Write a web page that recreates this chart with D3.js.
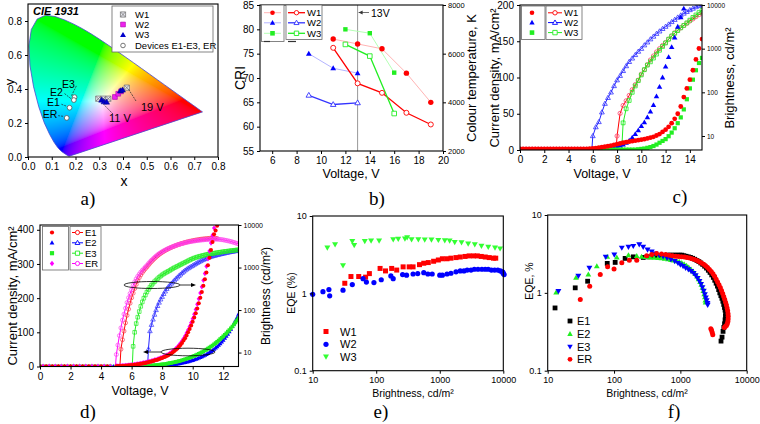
<!DOCTYPE html>
<html><head><meta charset="utf-8">
<script src="https://cdn.jsdelivr.net/npm/d3@7"></script>
<style>body{margin:0;background:#fff}svg{display:block}</style>
</head><body><svg id="c" width="760" height="424"></svg>
<script>
// ---------------- DATA ----------------
// panel a: CIE 1931 spectral locus (x,y) and colour coordinates
const locusXY = [[0.1741,0.0050],[0.1733,0.0048],[0.1714,0.0051],[0.1689,0.0069],[0.1644,0.0109],[0.1566,0.0177],[0.1440,0.0297],[0.1355,0.0399],[0.1241,0.0578],[0.1096,0.0868],[0.0913,0.1327],[0.0687,0.2007],[0.0454,0.2950],[0.0235,0.4127],[0.0082,0.5384],[0.0039,0.6548],[0.0139,0.7502],[0.0389,0.8120],[0.0743,0.8338],[0.1142,0.8262],[0.1547,0.8059],[0.1929,0.7816],[0.2296,0.7543],[0.2658,0.7243],[0.3016,0.6923],[0.3373,0.6589],[0.3731,0.6245],[0.4087,0.5896],[0.4441,0.5547],[0.4788,0.5202],[0.5125,0.4866],[0.5448,0.4544],[0.5752,0.4242],[0.6029,0.3965],[0.6270,0.3725],[0.6658,0.3340],[0.6915,0.3083],[0.7079,0.2920],[0.7190,0.2809],[0.7260,0.2740],[0.7334,0.2666],[0.7347,0.2653]];
const aW1 = [[0.296,0.343],[0.317,0.343],[0.338,0.343],[0.416,0.408]];
const aW2 = [[0.366,0.353],[0.380,0.372],[0.392,0.386]];
const aW3 = [[0.310,0.335],[0.320,0.325],[0.331,0.323],[0.389,0.389],[0.398,0.394]];
const aDev = [[0.196,0.352],[0.193,0.335],[0.175,0.290],[0.163,0.230]];
const aDevNames = ["E3","E2","E1","ER"];
const aDevLabelXY = [[0.170,0.430],[0.120,0.385],[0.107,0.322],[0.093,0.255]];
const aTicksX = [0,0.1,0.2,0.3,0.4,0.5,0.6,0.7,0.8];
const aTicksY = [0,0.2,0.4,0.6,0.8];

// panel b: CRI (left) and colour temperature (right) vs voltage
const bW1_CRI = [[11,78],[13,77],[15,76],[17,71],[19,65]];
const bW2_CRI = [[9,75],[11,72],[13,71]];
const bW3_CRI = [[12,80],[14,79.2],[16,71.1]];
const bW1_CT = [[11,6240],[13,4780],[15,4390],[17,3570],[19,3090]];
const bW2_CT = [[9,4290],[11,3910],[13,3980]];
const bW3_CT = [[12,6380],[14,5900],[16,3540]];
const bTicksX = [6,8,10,12,14,16,18,20];
const bTicksCRI = [55,60,65,70,75,80,85];
const bTicksCT = [2000,4000,6000,8000];

// panel c: voltage sweep step 0.25 V; J (mA/cm2) and brightness (cd/m2)
const cStep = 0.25;
const cW1J = {v0:0, y:[1.5,1.5,1.5,1.5,1.5,1.5,1.5,1.5,1.5,1.5,1.5,1.5,1.5,1.5,1.5,1.5,1.5,1.5,1.5,1.5,1.5,1.5,1.5,
  1.8,2.2,2.7,3.2,3.8,4.5,5.2,6,7,8,9,10,10.8,11.5,12.2,12.8,13.5,14.2,15,16,17,18.2,20,22,25,28,32,37,43,50,60,73,85,97,110,125,140,153]};
const cW2J = {v0:0, y:[1,1,1,1,1,1,1,1,1,1,1,1,1,1,1,1,1,1,1,1,1,1,1,1,1.2,1.4,1.6,1.8,
  2,2.5,3,4,5,6,7.5,10,13,17,22,27,33,38,45,53,62,74,87,100,115,128,142,155,170,183,195]};
const cW3J = {v0:0, y:[0.5,0.5,0.5,0.5,0.5,0.5,0.5,0.5,0.5,0.5,0.5,0.5,0.5,0.5,0.5,0.5,0.5,0.5,0.5,0.5,0.5,0.5,0.5,0.5,0.5,0.5,0.5,0.5,0.5,0.5,0.5,0.5,0.5,0.5,0.5,0.5,0.5,0.5,0.5,
  1,1.5,2,3,4,5.5,7.5,10,12.5,15,19,24,30,37,45,56,70,85,97,110,120,127]};
const cW1B = {v0:7.75, y:[1,10,33,50,64,85,115,150,190,260,330,430,550,680,840,1000,1180,1380,1650,1950,2300,2650,3000,3400,3800,4300,4800,5400,6000,6600]};
const cW2B = {v0:5.75, y:[1,10,16,21,35,55,75,100,140,190,240,310,400,500,600,720,860,1000,1200,1400,1650,1900,2200,2500,2850,3200,3600,4100,4600,5200,5800,6400,7000,7700,8300,9000,9600,10000]};
const cW3B = {v0:8.25, y:[1,20,42,65,100,140,185,250,330,420,500,610,750,920,1120,1350,1650,1950,2250,2600,3000,3400,3900,4500,5200,5900,6700,7600]};
const cTicksX = [0,2,4,6,8,10,12,14];
const cTicksJ = [0,50,100,150,200];
const cTicksB = [10,100,1000,10000];

// panel d: step 0.1 V in the rising part (0.4 V in the flat part)
const dStep = 0.1, dFlatStep = 0.4;
const dE1J_flat = {v0:0, y:[0.8,0.8,0.8,0.8,0.8,0.8,0.8,0.8,0.8,0.8,0.8,0.8]};
const dE2J_flat = {v0:0, y:[0.3,0.3,0.3,0.3,0.3,0.3,0.3,0.3,0.3,0.3,0.3,0.3,0.3,0.3,0.3,0.3,0.3]};
const dE3J_flat = {v0:0.2, y:[0.5,0.5,0.5,0.5,0.5,0.5,0.5,0.5,0.5,0.5,0.5,0.5,0.5,0.5,0.5]};
const dERJ_flat = {v0:0.2, y:[1,1,1,1,1,1,1,1,1,1,1,1]};
const dERJ = {v0:5.0, y:[1.5,1.7,1.9,2.1,2.4,2.7,3.0,3.4,3.8,4.3,
  4.8,5.4,6.0,6.7,7.4,8.2,9.0,9.9,10.8,11.8, 12.8,13.9,15.0,16.2,17.5,18.8,20.2,21.7,23.3,25.0,
  26.8,28.7,30.8,33.0,35.5,38.2,41.2,44.5,48.2,52.3, 57,62,68,74,81,89,98,107,117,128,
  140,153,167,182,198,215,233,252,272,293, 315,338,361,384,405]};
const dE1J = {v0:5.0, y:[1.0,1.2,1.4,1.6,1.8,2.1,2.4,2.7,3.1,3.5,
  4.0,4.5,5.1,5.7,6.4,7.1,7.9,8.7,9.6,10.5, 11.5,12.5,13.6,14.8,16.0,17.3,18.7,20.1,21.6,23.2,
  24.9,26.7,28.7,30.8,33.1,35.6,38.4,41.5,45.0,48.8, 53,58,63,69,76,83,91,100,110,120,
  131,143,156,170,185,201,218,236,255,275, 296,318,341,364,387,398,412]};
const dE2J = {v0:7.0, y:[0.3,0.4,0.5,0.6,0.8,1.0,1.2,1.4,1.7,2.0,
  2.3,2.7,3.1,3.5,4.0,4.5,5.1,5.7,6.3,7.0, 7.7,8.5,9.3,10.2,11.1,12.1,13.2,14.3,15.5,16.8,
  18.2,19.7,21.3,23.0,24.8,26.7,28.7,30.9,33.2,35.7, 38.4,41.2,44.2,47.4,50.8,54.5,58.4,62.6,67.1,72,
  77,83,89,95,102,109,117,125,134,143, 153]};
const dE3J = {v0:6.0, y:[0.5,0.6,0.7,0.8,0.9,1.0,1.2,1.4,1.6,1.8,
  2.0,2.3,2.6,2.9,3.3,3.7,4.1,4.6,5.1,5.6, 6.2,6.8,7.5,8.2,9.0,9.8,10.7,11.6,12.6,13.6,
  14.7,15.8,17.0,18.3,19.6,21.0,22.5,24.0,25.6,27.3, 29.1,31.0,33.0,35.0,37.2,39.4,41.8,44.2,46.8,49.5,
  52.3,55.2,58.3,61.5,64.9,68.4,72,76,80,84, 88,93,97,102,107,112,117,123,129,135, 141]};
const dERB = {v0:4.9, y:[3, 9,15,25,38,58,80,110,150,195,245,
  300,380,460,540,620,700,780,860,940,1030, 1120,1240,1360,1480,1600,1730,1860,1990,2120,2240,
  2360,2470,2580,2690,2800,2900,3000,3100,3200,3300, 3400,3490,3580,3660,3740,3820,3900,3970,4040,4100,
  4160,4210,4260,4310,4360,4400,4440,4480,4510,4540, 4570,4600,4620,4640,4650,4650,4640,4620,4580,4530,
  4470,4400,4330,4250,4170,4080,3990,3890,3790,3690, 3600]};
const dE1B = {v0:5.2, y:[3,12,20,32,50,75,105,145,
  195,250,320,400,490,580,670,760,850,940, 1030,1140,1260,1380,1500,1630,1760,1890,2020,2150,
  2270,2390,2510,2630,2750,2860,2970,3080,3190,3300, 3400,3500,3600,3700,3790,3880,3970,4050,4130,4210,
  4280,4350,4420,4480,4540,4600,4650,4700,4740,4780, 4810,4840,4860,4870,4870,4860,4830]};
const dE3B = {v0:6.0, y:[2,14,30,48,68,92,122,155,190,225,
  265,305,345,385,425,465,505,545,590,630, 670,710,745,780,815,855,900,945,990,1030,
  1070,1120,1170,1220,1270,1320,1380,1440,1500,1560, 1620,1670,1720,1770,1810,1850,1890,1930,1970,2010,
  2050,2080,2110,2140,2170,2200,2230,2260,2290,2320, 2350,2380,2400,2430,2460,2480,2510,2540,2560,2590, 2610]};
const dE2B = {v0:7.0, y:[2,12,32,45,60,78,100,125,150,178,
  205,240,275,315,350,385,420,455,500,545, 590,640,690,745,800,855,910,960,1010,1060,
  1110,1170,1230,1290,1350,1410,1470,1530,1590,1650, 1710,1760,1800,1850,1890,1930,1970,2010,2050,2090,
  2130,2170,2210,2250,2290,2330,2360,2400,2430,2460, 2490]};
const dTicksX = [0,2,4,6,8,10,12];
const dTicksJ = [0,100,200,300,400];
const dTicksB = [10,100,1000,10000];

// panel e: EQE (%) vs brightness (cd/m2)
const eW1 = [[32,1.35],[40,1.65],[53,1.65],[68,1.62],[78,1.8],[115,2.1],[140,1.95],[175,2.1],[210,2.0],[265,2.2],[330,2.2],[380,2.2],[480,2.35],[560,2.45],[660,2.5],[800,2.6],[950,2.7],[1100,2.8],[1300,2.8],[1500,2.85],[1800,2.9],[2100,2.95],[2500,3.0],[2900,3.05],[3400,3.05],[3900,3.05],[4500,3.0],[5200,2.95],[6000,2.9],[7000,2.85],[7600,2.85]];
const eW2 = [[10,0.97],[14.5,1.05],[18,1.12],[18.5,0.93],[30,1.1],[42,1.3],[62,1.55],[70,1.4],[92,1.38],[120,1.5],[170,1.68],[185,1.55],[260,1.75],[300,1.72],[380,1.78],[450,1.8],[560,1.85],[650,1.78],[760,1.78],[1000,1.72],[1100,1.72],[1300,1.78],[1500,1.82],[1800,1.9],[2100,1.95],[2400,1.95],[2700,2.0],[3100,2.0],[3500,2.05],[4000,2.05],[4600,2.05],[5200,2.05],[5800,2.05],[6500,2.0],[7300,2.0],[8200,2.0],[9000,1.95],[9700,1.9],[10000,1.8],[10300,1.75],[9900,1.85]];
const eW3 = [[17,3.9],[22.5,4.3],[30,2.3],[42,4.75],[45,4.2],[66,4.75],[83,4.8],[111,4.8],[185,5.0],[222,5.05],[283,5.1],[307,5.3],[360,5.0],[460,5.0],[580,4.95],[740,4.95],[950,4.9],[1200,4.85],[1430,4.8],[1720,4.6],[2200,4.55],[2800,4.4],[3560,4.3],[4530,4.1],[5800,4.0],[7400,3.9],[8900,3.8]];
const logTicksB = [10,100,1000,10000];
const logTicksEQE = [0.1,1,10];

// panel f
const fE1 = [[12.9,0.64],[26,1.16],[40,1.41],[79,2.39],[104,2.46],[147,2.77],[195,2.9],[276,2.85],[330,2.9],[380,2.95],[437,3.0],[480,3.0],[530,3.0],[580,3.02],[640,3.05],[700,3.05],[760,3.05],[830,3.05],[900,3.05],[980,3.05],[1050,3.05],[1130,3.0],[1220,2.95],[1320,2.9],[1420,2.85],[1530,2.78],[1650,2.7],[1780,2.6],[1900,2.52],[2030,2.42],[2170,2.32],[2320,2.2],[2480,2.08],[2640,1.95],[2800,1.83],[2970,1.7],[3140,1.58],[3300,1.45],[3460,1.33],[3620,1.22],[3780,1.1],[3930,1.0],[4080,0.92],[4230,0.85],[4370,0.78],[4500,0.71],[4620,0.65],[4720,0.6],[4800,0.55],[4780,0.5],[4720,0.45],[4630,0.4],[4520,0.36],[4400,0.32],[4250,0.27],[4100,0.24]];
const fER = [[31,0.82],[43,1.22],[62,1.72],[80,2.16],[100,2.02],[131,2.44],[170,2.63],[220,2.63],[310,3.0],[370,3.1],[437,3.2],[520,3.15],[600,3.1],[680,3.05],[760,3.0],[850,2.95],[940,2.92],[1040,2.9],[1150,2.88],[1260,2.85],[1380,2.8],[1500,2.75],[1640,2.68],[1780,2.6],[1930,2.5],[2080,2.42],[2240,2.33],[2400,2.23],[2570,2.12],[2740,2.0],[2920,1.88],[3100,1.76],[3280,1.63],[3460,1.5],[3640,1.38],[3820,1.27],[4000,1.17],[4170,1.07],[4340,0.98],[4500,0.9],[4650,0.83],[4800,0.76],[4940,0.7],[5060,0.64],[5160,0.59],[5230,0.54],[5260,0.5],[5250,0.46],[5200,0.43],[5100,0.4],[4950,0.38],[4750,0.37],[4600,0.36],[2950,0.33],[2880,0.345],[3080,0.29],[3020,0.31]];
const fE2 = [[13.4,1.01],[26.7,1.56],[41,1.72],[55,2.2],[79,2.9],[110,2.85],[165,3.05],[220,2.97],[260,2.9],[300,2.88],[350,2.85],[400,2.82],[460,2.8],[520,2.78],[580,2.75],[650,2.7],[720,2.65],[800,2.6],[880,2.55],[960,2.5],[1050,2.42],[1140,2.33],[1240,2.23],[1340,2.12],[1450,2.0],[1560,1.88],[1670,1.75],[1780,1.62],[1880,1.5],[1980,1.38],[2070,1.27],[2150,1.16],[2220,1.06],[2290,0.96],[2340,0.88],[2380,0.8],[2400,0.75]];
const fE3 = [[14.5,1.05],[29,1.65],[42.5,2.1],[75,2.9],[101,3.1],[131,3.8],[165,3.9],[195,4.0],[240,4.2],[275,3.9],[320,3.6],[370,3.4],[420,3.2],[480,3.05],[550,2.95],[630,2.82],[720,2.7],[820,2.55],[920,2.42],[1000,2.3],[1100,2.2],[1200,2.1],[1320,2.0],[1450,1.9],[1580,1.8],[1700,1.68],[1820,1.55],[1940,1.42],[2050,1.3],[2150,1.18],[2250,1.06],[2340,0.96],[2420,0.87],[2490,0.8],[2560,0.74],[2580,0.7]];

// ---------------- HELPERS ----------------
const FONT = '"Liberation Sans", Arial, sans-serif';
const SERIF = '"Liberation Serif", "Times New Roman", serif';
const RED='#ff0000', BLUE='#0000ff', MAG='#ff00ff';
const svg = d3.select('#c');
const defs = svg.append('defs');
function grid(s, step){ return s.y.map((y,i)=>[+(s.v0+i*step).toFixed(3), y]); }
function clip(id, x0,y0,x1,y1){ defs.append('clipPath').attr('id',id).append('rect').attr('x',x0).attr('y',y0).attr('width',x1-x0).attr('height',y1-y0); return `url(#${id})`; }
function sym(t,r){
  switch(t){
    case 'circle': return `M${r},0A${r},${r} 0 1,1 ${-r},0A${r},${r} 0 1,1 ${r},0Z`;
    case 'square': return `M${-r},${-r}h${2*r}v${2*r}h${-2*r}Z`;
    case 'tri': return `M0,${-r*1.2}L${r*1.15},${r*0.8}L${-r*1.15},${r*0.8}Z`;
    case 'tridown': return `M0,${r*1.2}L${r*1.15},${-r*0.8}L${-r*1.15},${-r*0.8}Z`;
    case 'diamond': return `M0,${-r*1.35}L${r*1.05},0L0,${r*1.35}L${-r*1.05},0Z`;
    case 'xsquare': return `M${-r},${-r}h${2*r}v${2*r}h${-2*r}ZM${-r},${-r}L${r},${r}M${r},${-r}L${-r},${r}`;
  }
}
function line(g, data, sx, sy, color, w, cp){
  g.append('path').datum(data).attr('d', d3.line().x(d=>sx(d[0])).y(d=>sy(d[1])))
   .attr('fill','none').attr('stroke',color).attr('stroke-width',w).attr('clip-path',cp||null);
}
function marks(g, data, sx, sy, t, r, fill, stroke, sw, cp){
  g.append('g').attr('clip-path',cp||null).selectAll('path').data(data).join('path')
   .attr('d', sym(t,r)).attr('transform', d=>`translate(${sx(d[0])},${sy(d[1])})`)
   .attr('fill',fill).attr('stroke',stroke||'none').attr('stroke-width',sw||1);
}
function styleAxis(sel, fs){
  sel.select('.domain').remove();
  sel.attr('font-family',FONT).attr('font-size',fs);
  sel.selectAll('text').attr('fill','#000');
  sel.selectAll('line').attr('stroke','#000');
}
function axis(gen, x, y, fs){ svg.append('g').attr('transform',`translate(${x},${y})`).call(gen).call(styleAxis, fs); }
function frame(x0,y0,x1,y1){ svg.append('rect').attr('x',x0).attr('y',y0).attr('width',x1-x0).attr('height',y1-y0).attr('fill','none').attr('stroke','#000').attr('stroke-width',1.1); }
function text(str, x, y, fs, opts={}){
  const t = svg.append('text').attr('x',x).attr('y',y).attr('font-size',fs).attr('font-family',opts.font||FONT)
   .attr('text-anchor',opts.anchor||'middle').attr('fill',opts.fill||'#000').text(str);
  if(opts.rot) t.attr('transform',`rotate(${opts.rot},${x},${y})`);
  if(opts.weight) t.attr('font-weight',opts.weight);
  if(opts.style) t.attr('font-style',opts.style);
  return t;
}
function legendBox(x0,y0,x1,y1){ svg.append('rect').attr('x',x0).attr('y',y0).attr('width',x1-x0).attr('height',y1-y0).attr('fill','#fff').attr('stroke','#666').attr('stroke-width',0.8); }
const fmt1 = d3.format('.1f'), fmtD = d3.format('d');

// ---------------- PANEL A ----------------
(function(){
  const L=28,R=218,T=4,B=157;
  const x = d3.scaleLinear([0,0.8],[L,R]), y = d3.scaleLinear([0,0.9],[B,T]);
  const g = svg.append('g');
  const W=R-L, H=B-T;
  const cv = document.createElement('canvas'); cv.width=W; cv.height=H;
  const ctx = cv.getContext('2d'); const img = ctx.createImageData(W,H);
  const gam = c => c<=0.0031308 ? 12.92*c : 1.055*Math.pow(c,1/2.4)-0.055;
  for(let j=0;j<H;j++) for(let i=0;i<W;i++){
    const cx = x.invert(L+i+0.5), cy = y.invert(T+j+0.5);
    const k=(j*W+i)*4;
    if(cy<0.003){ img.data[k+3]=0; continue; }
    const X=cx/cy, Y=1, Z=(1-cx-cy)/cy;
    let r=3.2406*X-1.5372*Y-0.4986*Z, gg=-0.9689*X+1.8758*Y+0.0415*Z, b=0.0557*X-0.2040*Y+1.0570*Z;
    r=Math.max(r,0); gg=Math.max(gg,0); b=Math.max(b,0);
    const m=Math.max(r,gg,b)||1;
    img.data[k]=255*gam(r/m); img.data[k+1]=255*gam(gg/m); img.data[k+2]=255*gam(b/m); img.data[k+3]=255;
  }
  ctx.putImageData(img,0,0);
  const lp = d3.line().x(d=>x(d[0])).y(d=>y(d[1]));
  defs.append('clipPath').attr('id','locus').append('path').attr('d', lp(locusXY)+'Z');
  g.append('image').attr('href',cv.toDataURL()).attr('x',L).attr('y',T).attr('width',W).attr('height',H).attr('clip-path','url(#locus)').attr('preserveAspectRatio','none');
  g.append('path').attr('d', lp(locusXY)+'Z').attr('fill','none').attr('stroke','#4a4ad0').attr('stroke-width',0.8);
  marks(g, aW1, x, y, 'xsquare', 2.6, '#e8e8f0', '#777', 0.8);
  marks(g, aW2, x, y, 'square', 2.4, '#ee22ee', '#aa00aa', 0.6);
  marks(g, aW3, x, y, 'tri', 2.6, '#0000cc', '#000088', 0.5);
  marks(g, aDev, x, y, 'circle', 2.4, '#fff', '#555', 0.8);
  aDevNames.forEach((n,i)=>{
    const lx=x(aDevLabelXY[i][0]), ly=y(aDevLabelXY[i][1]);
    text(n, lx, ly+4, 10.5);
    g.append('line').attr('x1',lx+8).attr('y1',ly+2).attr('x2',x(aDev[i][0])-3).attr('y2',y(aDev[i][1])-1.5)
     .attr('stroke','#222').attr('stroke-width',0.7).attr('stroke-dasharray','2,1');
  });
  g.append('line').attr('x1',136).attr('y1',101).attr('x2',x(0.416)+2).attr('y2',y(0.408)+2).attr('stroke','#222').attr('stroke-width',0.7).attr('stroke-dasharray','2,1');
  text('19 V', 141, 111, 11, {anchor:'start'});
  g.append('line').attr('x1',113).attr('y1',114).attr('x2',x(0.318)).attr('y2',y(0.322)+2).attr('stroke','#222').attr('stroke-width',0.7).attr('stroke-dasharray','2,1');
  text('11 V', 109, 122, 11, {anchor:'start'});
  axis(d3.axisBottom(x).tickValues(aTicksX).tickSize(3).tickFormat(fmt1), 0, B, 10);
  axis(d3.axisLeft(y).tickValues(aTicksY).tickSize(3).tickFormat(fmt1), L, 0, 10);
  frame(L,T,R,B);
  text('CIE 1931', 33, 15, 11, {anchor:'start', weight:'bold', style:'italic'});
  legendBox(112,6,213,52);
  const rows=[14.5,24.5,35,45.5];
  svg.append('path').attr('d',sym('xsquare',2.6)).attr('transform',`translate(123,${rows[0]})`).attr('fill','#e8e8f0').attr('stroke','#777').attr('stroke-width',0.8);
  svg.append('path').attr('d',sym('square',2.4)).attr('transform',`translate(123,${rows[1]})`).attr('fill','#ee22ee').attr('stroke','#aa00aa').attr('stroke-width',0.6);
  svg.append('path').attr('d',sym('tri',2.6)).attr('transform',`translate(123,${rows[2]})`).attr('fill','#0000cc');
  svg.append('path').attr('d',sym('circle',2.3)).attr('transform',`translate(123,${rows[3]})`).attr('fill','#fff').attr('stroke','#555').attr('stroke-width',0.8);
  ['W1','W2','W3','Devices E1-E3, ER'].forEach((s,i)=>text(s,135,rows[i]+3.3,9.5,{anchor:'start'}));
  text('x', 124, 186, 14);
  text('y', 14, 82, 13, {rot:-90});
  text('a)', 88, 205, 19, {font:SERIF});
})();

// ---------------- PANEL B ----------------
(function(){
  const L=260,R=443,T=5,B=151;
  const x=d3.scaleLinear([5,20],[L,R]), yl=d3.scaleLinear([55,85],[B,T]), yr=d3.scaleLinear([2000,8000],[B,T]);
  const g=svg.append('g');
  g.append('line').attr('x1',x(13)).attr('x2',x(13)).attr('y1',T).attr('y2',B).attr('stroke','#999').attr('stroke-width',1);
  line(g,bW1_CRI,x,yl,'#ffb4b4',1); line(g,bW2_CRI,x,yl,'#b4b4ff',1); line(g,bW3_CRI,x,yl,'#b4ffb4',1);
  line(g,bW1_CT,x,yr,RED,1.3); line(g,bW2_CT,x,yr,'#3333ff',1.3); line(g,bW3_CT,x,yr,'#22ee22',1.3);
  marks(g,bW1_CRI,x,yl,'circle',2.7,RED); marks(g,bW2_CRI,x,yl,'tri',2.5,BLUE); marks(g,bW3_CRI,x,yl,'square',2.2,'#22ee22');
  marks(g,bW1_CT,x,yr,'circle',2.5,'#fff',RED,0.9); marks(g,bW2_CT,x,yr,'tri',2.4,'#fff','#3333ff',0.9); marks(g,bW3_CT,x,yr,'square',2.3,'#fff','#22ee22',0.9);
  axis(d3.axisBottom(x).tickValues(bTicksX).tickSize(3), 0, B, 10);
  axis(d3.axisLeft(yl).tickValues(bTicksCRI).tickSize(3), L, 0, 10);
  axis(d3.axisRight(yr).tickValues(bTicksCT).tickSize(3).tickPadding(2).tickFormat(fmtD), R, 0, 7.5);
  frame(L,T,R,B);
  g.append('line').attr('x1',369).attr('y1',12.5).attr('x2',x(13)+1).attr('y2',12.5).attr('stroke','#333').attr('stroke-width',0.7);
  g.append('path').attr('d',`M${x(13)+1},12.5l4,-2v4Z`).attr('fill','#333');
  text('13V', 371, 16.5, 10.5, {anchor:'start'});
  legendBox(261.5,5,284,41.5); legendBox(286,5,322,39.5);
  const rows=[12.7,22.8,33.3];
  const lc=['#ffb4b4','#b4b4ff','#b4ffb4'], mc=[RED,BLUE,'#22ee22'], dc=[RED,'#3333ff','#22ee22'], tp=['circle','tri','square'];
  rows.forEach((ry,i)=>{
    svg.append('line').attr('x1',264).attr('x2',281).attr('y1',ry).attr('y2',ry).attr('stroke',lc[i]).attr('stroke-width',1);
    svg.append('path').attr('d',sym(tp[i],2.3)).attr('transform',`translate(272.5,${ry})`).attr('fill',mc[i]);
    svg.append('line').attr('x1',288).attr('x2',305).attr('y1',ry).attr('y2',ry).attr('stroke',dc[i]).attr('stroke-width',1.3);
    svg.append('path').attr('d',sym(tp[i],2.2)).attr('transform',`translate(296.5,${ry})`).attr('fill','#fff').attr('stroke',dc[i]).attr('stroke-width',0.9);
    text(['W1','W2','W3'][i], 307, ry+3.5, 9.5, {anchor:'start'});
  });
  svg.append('line').attr('x1',264).attr('x2',270).attr('y1',41.5).attr('y2',41.5).attr('stroke','#333').attr('stroke-width',1.2);
  svg.append('line').attr('x1',288).attr('x2',296).attr('y1',41.5).attr('y2',41.5).attr('stroke','#333').attr('stroke-width',1.2);
  text('CRI', 245, 78, 14, {rot:-90});
  text('Voltage, V', 351, 178, 12.5);
  text('Colour temperature, K', 476, 78, 13, {rot:-90});
  text('b)', 377, 205, 19, {font:SERIF});
})();

// ---------------- PANEL C ----------------
(function(){
  const L=520,R=702,T=5,B=150;
  const x=d3.scaleLinear([0,15],[L,R]), yl=d3.scaleLinear([0,200],[B,T]), yr=d3.scaleLog([4.78,10000],[B,T]);
  const cp=clip('clipC',L,T,R,B);
  const g=svg.append('g');
  const w1b=grid(cW1B,cStep), w2b=grid(cW2B,cStep), w3b=grid(cW3B,cStep);
  line(g,w2b,x,yr,'#2222ff',1,cp); marks(g,w2b,x,yr,'tri',2.1,'none','#3333ff',0.8,cp);
  line(g,w1b,x,yr,RED,1,cp); marks(g,w1b,x,yr,'circle',2.1,'none','#ff4070',0.8,cp);
  line(g,w3b,x,yr,'#22ee22',1,cp); marks(g,w3b,x,yr,'square',1.9,'none','#22ee22',0.8,cp);
  marks(g,grid(cW2J,cStep),x,yl,'tri',2.4,BLUE,null,1,cp);
  marks(g,grid(cW3J,cStep),x,yl,'square',2.1,'#22ee22',null,1,cp);
  marks(g,grid(cW1J,cStep),x,yl,'circle',2.4,RED,null,1,cp);
  axis(d3.axisBottom(x).tickValues(cTicksX).tickSize(3), 0, B, 10);
  axis(d3.axisLeft(yl).tickValues(cTicksJ).tickSize(3), L, 0, 10);
  axis(d3.axisRight(yr).tickValues(cTicksB).tickSize(3).tickPadding(2).tickFormat(fmtD), R, 0, 6.5);
  frame(L,T,R,B);
  legendBox(521.5,6,545,39.5); legendBox(546,6,582,39.5);
  const rows=[12.8,22.6,32.6], mc=[RED,BLUE,'#22ee22'], tp=['circle','tri','square'];
  rows.forEach((ry,i)=>{
    svg.append('path').attr('d',sym(tp[i],2.3)).attr('transform',`translate(532,${ry})`).attr('fill',mc[i]);
    svg.append('line').attr('x1',548).attr('x2',562).attr('y1',ry).attr('y2',ry).attr('stroke',mc[i]).attr('stroke-width',1);
    svg.append('path').attr('d',sym(tp[i],2.2)).attr('transform',`translate(555,${ry})`).attr('fill','#fff').attr('stroke',mc[i]).attr('stroke-width',0.9);
    text(['W1','W2','W3'][i], 564, ry+3.5, 9.5, {anchor:'start'});
  });
  text('Current density, mA/cm²', 499, 78, 13, {rot:-90});
  text('Voltage, V', 602, 178, 12.5);
  text('Brightness, cd/m²', 734, 78, 13, {rot:-90});
  text('c)', 680, 203, 19, {font:SERIF});
})();

// ---------------- PANEL D ----------------
(function(){
  const L=40,R=238.5,T=225,B=366.5;
  const x=d3.scaleLinear([0,13],[L,R]), yl=d3.scaleLinear([0,414],[B,T]), yr=d3.scaleLog([4.7,10000],[B,T]);
  const cp=clip('clipD',L,T,R,B);
  const g=svg.append('g');
  const e2b=grid(dE2B,dStep), e3b=grid(dE3B,dStep), e1b=grid(dE1B,dStep), erb=grid(dERB,dStep);
  line(g,e2b,x,yr,'#2222ff',1,cp); marks(g,e2b,x,yr,'tri',2.0,'none','#3333ff',0.7,cp);
  line(g,e3b,x,yr,'#22ee22',1,cp); marks(g,e3b,x,yr,'square',1.8,'none','#22ee22',0.7,cp);
  line(g,e1b,x,yr,RED,1,cp); marks(g,e1b,x,yr,'circle',2.0,'none','#ff3355',0.7,cp);
  line(g,erb,x,yr,MAG,1,cp); marks(g,erb,x,yr,'circle',2.0,'none','#ff44ee',0.7,cp);
  const e2j=grid(dE2J_flat,dFlatStep).concat(grid(dE2J,dStep));
  const e3j=grid(dE3J_flat,dFlatStep).concat(grid(dE3J,dStep));
  const erj=grid(dERJ_flat,dFlatStep).concat(grid(dERJ,dStep));
  const e1j=grid(dE1J_flat,dFlatStep).concat(grid(dE1J,dStep));
  marks(g,e2j,x,yl,'tri',2.0,BLUE,null,1,cp);
  marks(g,e3j,x,yl,'square',1.8,'#22ee22',null,1,cp);
  marks(g,erj,x,yl,'diamond',2.0,MAG,null,1,cp);
  marks(g,e1j,x,yl,'circle',2.0,RED,null,1,cp);
  g.append('ellipse').attr('cx',152).attr('cy',285).attr('rx',28).attr('ry',3.5).attr('fill','none').attr('stroke','#000').attr('stroke-width',0.8);
  g.append('line').attr('x1',180).attr('y1',285).attr('x2',193).attr('y2',285).attr('stroke','#000').attr('stroke-width',0.8);
  g.append('path').attr('d','M196,285l-5,-2v4Z').attr('fill','#000');
  g.append('ellipse').attr('cx',188).attr('cy',352).attr('rx',27).attr('ry',3.8).attr('fill','none').attr('stroke','#000').attr('stroke-width',0.8);
  g.append('line').attr('x1',161).attr('y1',352).attr('x2',146).attr('y2',352).attr('stroke','#000').attr('stroke-width',0.8);
  g.append('path').attr('d','M143,352l5,-2v4Z').attr('fill','#000');
  axis(d3.axisBottom(x).tickValues(dTicksX).tickSize(3), 0, B, 10);
  axis(d3.axisLeft(yl).tickValues(dTicksJ).tickSize(3), L, 0, 10);
  axis(d3.axisRight(yr).tickValues(dTicksB).tickSize(3).tickPadding(2).tickFormat(fmtD), R, 0, 7);
  frame(L,T,R,B);
  legendBox(42.5,226.5,68.5,270); legendBox(70,226.5,101,270);
  const rows=[232.5,242.8,253.2,263.5], mc=[RED,BLUE,'#22ee22',MAG], tp=['circle','tri','square','diamond'], tpo=['circle','tri','square','circle'];
  rows.forEach((ry,i)=>{
    svg.append('path').attr('d',sym(tp[i],2.1)).attr('transform',`translate(52,${ry})`).attr('fill',mc[i]);
    svg.append('line').attr('x1',72).attr('x2',83).attr('y1',ry).attr('y2',ry).attr('stroke',mc[i]).attr('stroke-width',1);
    svg.append('path').attr('d',sym(tpo[i],2.1)).attr('transform',`translate(77.5,${ry})`).attr('fill','#fff').attr('stroke',mc[i]).attr('stroke-width',0.9);
    text(['E1','E2','E3','ER'][i], 85, ry+3.4, 9.5, {anchor:'start'});
  });
  text('Current density, mA/cm²', 17, 296, 13, {rot:-90});
  text('Voltage, V', 140, 395, 12.5);
  text('Brightness (cd/m²)', 270, 296, 12, {rot:-90});
  text('d)', 88, 418, 19, {font:SERIF});
})();

// ---------------- PANEL E ----------------
(function(){
  const L=312.7,R=503.3,T=216,B=370.7;
  const x=d3.scaleLog([10,10000],[L,R]), y=d3.scaleLog([0.1,10],[B,T]);
  const g=svg.append('g');
  marks(g,eW1,x,y,'square',2.5,RED);
  marks(g,eW2,x,y,'circle',2.6,BLUE);
  marks(g,eW3,x,y,'tridown',2.6,'#33ff33');
  axis(d3.axisBottom(x).tickValues(logTicksB).tickSize(3).tickFormat(fmtD), 0, B, 9);
  axis(d3.axisLeft(y).tickValues(logTicksEQE).tickSize(3).tickFormat(d=>String(d)), L, 0, 9);
  frame(L,T,R,B);
  const rows=[331.5,344.3,356.7];
  svg.append('path').attr('d',sym('square',2.5)).attr('transform',`translate(326,${rows[0]})`).attr('fill',RED);
  svg.append('path').attr('d',sym('circle',2.6)).attr('transform',`translate(326,${rows[1]})`).attr('fill',BLUE);
  svg.append('path').attr('d',sym('tridown',2.6)).attr('transform',`translate(326,${rows[2]})`).attr('fill','#33ff33');
  ['W1','W2','W3'].forEach((s,i)=>text(s,340,rows[i]+4,11,{anchor:'start'}));
  text('EQE (%)', 295, 293, 10.5, {rot:-90});
  text('Brightness, cd/m²', 413, 397, 10.5);
  text('e)', 381, 418, 19, {font:SERIF});
})();

// ---------------- PANEL F ----------------
(function(){
  const L=547.7,R=746.7,T=215,B=370.7;
  const x=d3.scaleLog([10,10000],[L,R]), y=d3.scaleLog([0.1,10],[B,T]);
  const g=svg.append('g');
  marks(g,fE1,x,y,'square',2.4,'#000');
  marks(g,fE2,x,y,'tri',2.5,'#22ee22');
  marks(g,fE3,x,y,'tridown',2.6,BLUE);
  marks(g,fER,x,y,'circle',2.5,RED);
  axis(d3.axisBottom(x).tickValues(logTicksB).tickSize(3).tickFormat(fmtD), 0, B, 9);
  axis(d3.axisLeft(y).tickValues(logTicksEQE).tickSize(3).tickFormat(d=>String(d)), L, 0, 9);
  frame(L,T,R,B);
  const rows=[321,334,346.7,359.3], mc=['#000','#22ee22',BLUE,RED], tp=['square','tri','tridown','circle'];
  rows.forEach((ry,i)=>{
    svg.append('path').attr('d',sym(tp[i],2.4)).attr('transform',`translate(570,${ry})`).attr('fill',mc[i]);
    text(['E1','E2','E3','ER'][i], 577, ry+4, 11, {anchor:'start'});
  });
  text('EQE, %', 533, 281, 10.5, {rot:-90});
  text('Brightness, cd/m²', 647, 397, 10.5);
  text('f)', 674, 418, 19, {font:SERIF});
})();
</script></body></html>
